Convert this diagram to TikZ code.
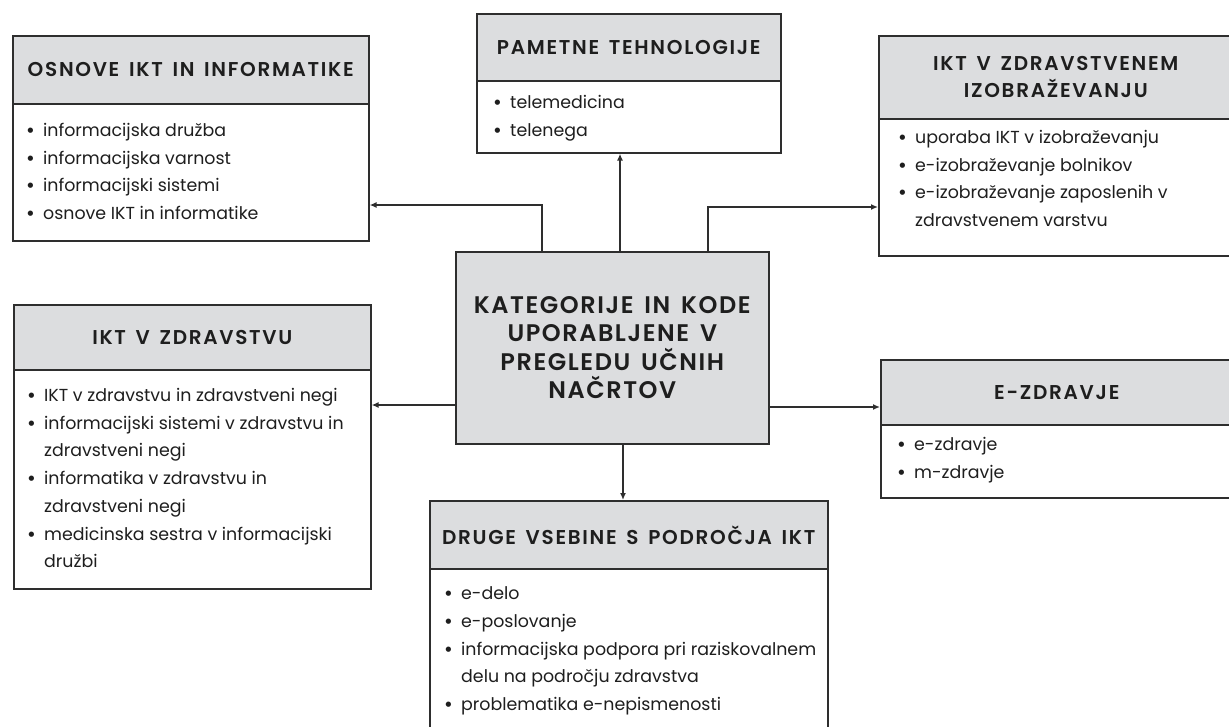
\documentclass[tikz,border=0pt]{standalone}
\usepackage{fontspec}
\setmainfont{Poppins}
\newfontfamily\headfont{Poppins}[UprightFont={* SemiBold}, LetterSpace=8.5, WordSpace=1.5]
\newfontfamily\titlefont{Poppins}[UprightFont={* SemiBold}, LetterSpace=6.5, WordSpace=1.5]
\usetikzlibrary{arrows.meta}
\definecolor{boxgray}{HTML}{DCDDDF}
\definecolor{linegray}{HTML}{2E2E2E}
\definecolor{txt}{HTML}{1E1E1E}
\newcommand\itm{\strut\makebox[18pt][l]{\hspace*{1pt}\textbf{•}}}
\newcommand\cnt{\strut\hspace*{18pt}}
\tikzset{
  hd/.style={draw=linegray, line width=1.6pt, fill=boxgray, anchor=north west, inner sep=0pt, align=center, text=txt,
    font=\headfont\fontsize{20}{27}\selectfont},
  bd/.style={draw=linegray, line width=1.6pt, fill=white, anchor=north west, inner sep=0pt},
  lst/.style={anchor=north west, inner sep=0pt, align=left, text=txt, font=\fontsize{17.4}{27.7}\selectfont},
  arr/.style={draw=linegray, line width=1.4pt, -{Latex[length=7pt,width=6pt]}},
}
\begin{document}
\begin{tikzpicture}[x=1pt,y=-1pt]
\useasboundingbox (0,0) rectangle (1229,726);
\clip (0,0) rectangle (1229,726);
\fill[white] (0,0) rectangle (1229,726);

% box 1
\node[hd, minimum width=356, minimum height=68] (h1) at (12,35) {OSNOVE IKT IN INFORMATIKE};
\node[bd, minimum width=356, minimum height=137] (b1) at (12,103) {};
\node[lst] (l1) at (25,117) {\itm informacijska družba\\ \itm informacijska varnost\\ \itm informacijski sistemi\\ \itm osnove IKT in informatike};

% box 2
\node[hd, minimum width=304, minimum height=67] (h2) at (476,13) {PAMETNE TEHNOLOGIJE};
\node[bd, minimum width=304, minimum height=72] (b2) at (476,80) {};
\node[lst] (l2) at (492,89) {\itm telemedicina\\ \itm telenega};

% box 3
\node[hd, minimum width=354, minimum height=83] (h3) at (878,35) {IKT V ZDRAVSTVENEM\\IZOBRAŽEVANJU};
\node[bd, minimum width=354, minimum height=137] (b3) at (878,118) {};
\node[lst] (l3) at (897,124) {\itm uporaba IKT v izobraževanju\\ \itm e-izobraževanje bolnikov\\ \itm e-izobraževanje zaposlenih v\\ \cnt zdravstvenem varstvu};

% box 4
\node[hd, minimum width=357, minimum height=65] (h4) at (13,304) {IKT V ZDRAVSTVU};
\node[bd, minimum width=357, minimum height=219] (b4) at (13,369) {};
\node[lst] (l4) at (26,382) {\itm IKT v zdravstvu in zdravstveni negi\\ \itm informacijski sistemi v zdravstvu in\\ \cnt zdravstveni negi\\ \itm informatika v zdravstvu in\\ \cnt zdravstveni negi\\ \itm medicinska sestra v informacijski\\ \cnt družbi};

% centre
\node[hd, minimum width=313, minimum height=192, font=\titlefont\fontsize{24}{28.5}\selectfont] (c) at (455,251) {KATEGORIJE IN KODE\\UPORABLJENE V\\PREGLEDU UČNIH\\NAČRTOV};

% box 6
\node[hd, minimum width=352, minimum height=65] (h6) at (880,359) {E-ZDRAVJE};
\node[bd, minimum width=352, minimum height=73] (b6) at (880,424) {};
\node[lst] (l6) at (896,431) {\itm e-zdravje\\ \itm m-zdravje};

% box 7
\node[hd, minimum width=398, minimum height=68] (h7) at (429,500) {DRUGE VSEBINE S PODROČJA IKT};
\node[bd, minimum width=398, minimum height=170] (b7) at (429,568) {};
\node[lst] (l7) at (443,580) {\itm e-delo\\ \itm e-poslovanje\\ \itm informacijska podpora pri raziskovalnem\\ \cnt delu na področju zdravstva\\ \itm problematika e-nepismenosti};

% connectors
\coordinate (k1) at (542,205);
\coordinate (k2) at (620,0);
\coordinate (k3) at (708,207);
\coordinate (k4) at (0,405);
\coordinate (k6) at (0,407);
\coordinate (k7) at (623,0);
\draw[arr] (c.north -| k1) -- (k1) -- (k1 -| b1.east);
\draw[arr] (c.north -| k2) -- (b2.south -| k2);
\draw[arr] (c.north -| k3) -- (k3) -- (k3 -| b3.west);
\draw[arr] (c.west |- k4) -- (b4.east |- k4);
\draw[arr] (c.east |- k6) -- (b6.west |- k6);
\draw[arr] (c.south -| k7) -- (h7.north -| k7);
\end{tikzpicture}
\end{document}
